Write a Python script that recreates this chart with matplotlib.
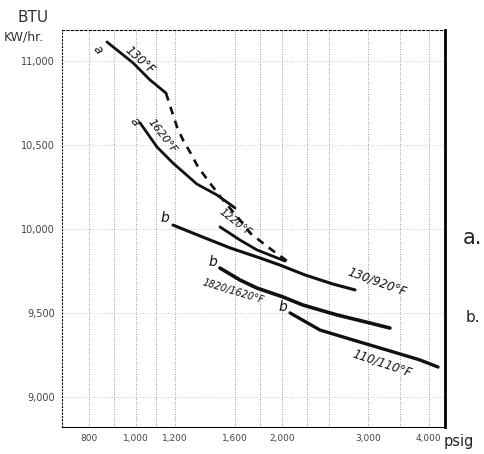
import matplotlib
matplotlib.use("Agg")
import matplotlib.pyplot as plt
import numpy as np

# pressure (psig) / heat rate (BTU per KW/hr)
a_130_p = [871, 986, 1068, 1152]
a_130_h = [11111, 10986, 10885, 10807]

a_dash_p = [1152, 1186, 1214, 1249, 1291, 1341, 1419, 1510, 1636, 1716, 1868, 2045]
a_dash_h = [10807, 10694, 10605, 10527, 10456, 10367, 10271, 10170, 10051, 9974, 9890, 9807]

a_1620_p = [1019, 1104, 1191, 1334, 1467, 1598]
a_1620_h = [10629, 10486, 10390, 10265, 10200, 10123]

a_1220_p = [1488, 1636, 1773, 2025]
a_1220_h = [10010, 9932, 9873, 9807]

b_130_p = [1191, 1354, 1561, 1799, 1977, 2226, 2542, 2822]
b_130_h = [10021, 9956, 9885, 9825, 9783, 9724, 9670, 9635]

b_1820_p = [1488, 1636, 1773, 2006, 2205, 2591, 3029, 3329]
b_1820_h = [9765, 9694, 9646, 9593, 9545, 9486, 9438, 9408]

b_110_p = [2074, 2391, 2795, 3283, 3839, 4181]
b_110_h = [9498, 9396, 9337, 9277, 9218, 9176]

x_ticks = [800, 1000, 1200, 1600, 2000, 3000, 4000]
x_labels = ["800", "1,000", "1,200", "1,600", "2,000", "3,000", "4,000"]
y_ticks = [9000, 9500, 10000, 10500, 11000]
y_labels = ["9,000", "9,500", "10,000", "10,500", "11,000"]
x_grid = [800, 900, 1000, 1100, 1200, 1600, 1800, 2000, 2250, 2500, 3000, 3500, 4000]

fig = plt.figure(figsize=(4.85, 4.54), dpi=100)
ax = fig.add_axes([62/485, 1-427/454, (445-62)/485, (427-30)/454])
ax.set_xscale("log")
ax.set_xlim(704, 4322)
ax.set_ylim(8819, 11182)

for g in x_grid:
    ax.axvline(g, color="#777777", lw=0.6, ls=(0, (1, 2)), zorder=1)
for g in y_ticks:
    ax.axhline(g, color="#999999", lw=0.5, ls=(0, (1, 3)), zorder=1)

ink = "#111111"
ax.plot(a_130_p, a_130_h, color=ink, lw=2.0, solid_capstyle="round")
ax.plot(a_dash_p, a_dash_h, color=ink, lw=1.9, ls=(0, (3, 2.5)))
ax.plot(a_1620_p, a_1620_h, color=ink, lw=2.0, solid_capstyle="round")
ax.plot(a_1220_p, a_1220_h, color=ink, lw=2.0, solid_capstyle="round")
ax.plot(b_130_p, b_130_h, color=ink, lw=2.2, solid_capstyle="round")
ax.plot(b_1820_p, b_1820_h, color=ink, lw=2.6, solid_capstyle="round")
ax.plot(b_110_p, b_110_h, color=ink, lw=2.4, solid_capstyle="round")

ax.set_xticks(x_ticks)
ax.set_xticklabels(x_labels)
ax.set_yticks(y_ticks)
ax.set_yticklabels(y_labels)
ax.minorticks_off()
ax.tick_params(length=0, labelsize=7, labelcolor="#444444")
ax.tick_params(axis="x", pad=5, labelsize=6.5)
ax.tick_params(axis="y", pad=5)

ax.spines["top"].set_linestyle((0, (2, 2)))
ax.spines["top"].set_linewidth(0.8)
ax.spines["left"].set_linestyle((0, (1, 2)))
ax.spines["left"].set_linewidth(0.8)
ax.spines["bottom"].set_linewidth(0.8)
ax.spines["right"].set_linewidth(2.0)

def note(x, y, s, rot=0, size=8):
    ax.text(x, y, s, rotation=rot, fontsize=size, color=ink, fontstyle="italic",
            ha="center", va="center", rotation_mode="anchor")

note(1018, 11004, "130°F", -42, 8.5)
note(835, 11063, "a", -50, 9)
note(1134, 10551, "1620°F", -52, 8)
note(992, 10635, "a", -50, 9)
note(1598, 10040, "1220°F", -38, 7.5)
note(1148, 10063, "b", 0, 10)
note(1440, 9802, "b", 0, 10)
note(2006, 9532, "b", 0, 10)
note(3131, 9682, "130/920°F", -20, 8.5)
note(1582, 9623, "1820/1620°F", -17, 7)
note(3205, 9200, "110/110°F", -19, 8.5)

fig.text(18/485, 1-22/454, "BTU", fontsize=11, color="#333333")
fig.text(4/485, 1-40/454, "KW/hr.", fontsize=9, color="#333333")
fig.text(444/485, 1-446/454, "psig", fontsize=10.5, color="#222222")
fig.text(463/485, 1-244/454, "a.", fontsize=15, color="#222222")
fig.text(466/485, 1-322/454, "b.", fontsize=11, color="#222222")

fig.savefig("out.png", dpi=100)
